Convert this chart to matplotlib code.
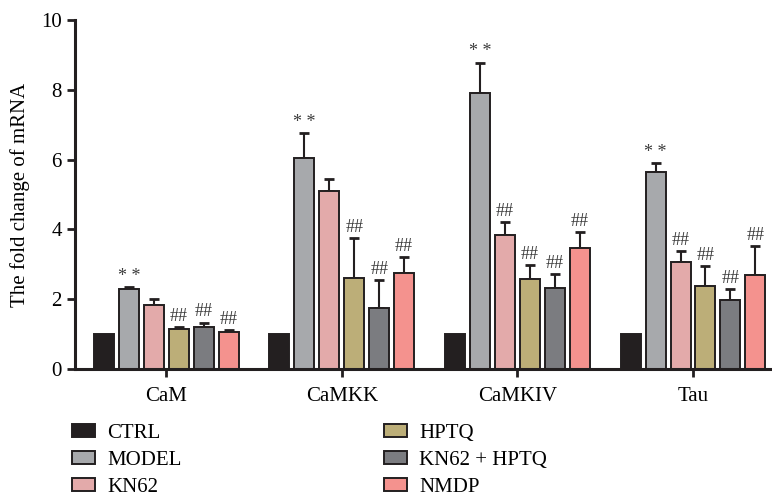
import numpy as np
import matplotlib
matplotlib.use("Agg")
import matplotlib.pyplot as plt

plt.rcParams['font.family'] = ['Liberation Serif', 'DejaVu Serif']

genes = ['CaM', 'CaMKK', 'CaMKIV', 'Tau']
groups = ['CTRL', 'MODEL', 'KN62', 'HPTQ', 'KN62 + HPTQ', 'NMDP']
colors = ['#231f20', '#a7a9ac', '#e3aaaa', '#bcae78', '#7b7c80', '#f4928e']

# mean fold change per group (rows) and gene (columns)
means = [
    [1.0, 1.0, 1.0, 1.0],
    [2.28, 6.05, 7.90, 5.65],
    [1.83, 5.10, 3.85, 3.08],
    [1.15, 2.62, 2.57, 2.38],
    [1.20, 1.75, 2.33, 1.97],
    [1.05, 2.75, 3.48, 2.68],
]
# upper error (SD)
errs = [
    [0.0, 0.0, 0.0, 0.0],
    [0.07, 0.70, 0.88, 0.25],
    [0.17, 0.35, 0.35, 0.29],
    [0.05, 1.13, 0.40, 0.58],
    [0.13, 0.80, 0.39, 0.32],
    [0.07, 0.45, 0.44, 0.85],
]
# significance marks above bars
marks = [
    ['', '', '', ''],
    ['* *', '* *', '* *', '* *'],
    ['', '', '##', '##'],
    ['##', '##', '##', '##'],
    ['##', '##', '##', '##'],
    ['##', '##', '##', '##'],
]

fig = plt.figure(figsize=(7.72, 5.0), dpi=100)
ax = fig.add_axes([0.097, 0.262, 0.903, 0.698])

x = np.arange(len(genes))
step = 0.142
width = 0.114
for i, g in enumerate(groups):
    pos = x + (i - 2.5) * step
    ax.bar(pos, means[i], width, color=colors[i], edgecolor='#231f20',
           linewidth=1.4, label=g, zorder=2)
    if i > 0:
        ax.errorbar(pos, means[i], yerr=[np.zeros(len(genes)), errs[i]],
                    fmt='none', ecolor='#231f20', elinewidth=1.5,
                    capsize=3.5, capthick=2, zorder=1)
    for j in range(len(genes)):
        if marks[i][j]:
            ax.text(pos[j], means[i][j] + errs[i][j] + 0.06, marks[i][j],
                    ha='center', va='bottom', fontsize=13, color='#3a3a3a')

ax.set_xlim(-0.52, 3.45)
ax.set_ylim(0, 10)
ax.set_yticks([0, 2, 4, 6, 8, 10])
ax.set_xticks(x)
ax.set_xticklabels(genes)
ax.tick_params(axis='both', labelsize=15, width=2, length=6, color='#231f20')
ax.tick_params(axis='x', pad=7)
ax.set_ylabel('The fold change of mRNA', fontsize=15, labelpad=8)
for s in ['top', 'right']:
    ax.spines[s].set_visible(False)
for s in ['left', 'bottom']:
    ax.spines[s].set_linewidth(2.2)
    ax.spines[s].set_color('#231f20')

handles, labels = ax.get_legend_handles_labels()
fig.legend(handles, labels,
           ncol=2, loc='upper left', bbox_to_anchor=(0.093, 0.152),
           frameon=False, fontsize=15, handlelength=1.1, handleheight=0.55,
           handletextpad=0.6, labelspacing=0.38, columnspacing=9.7,
           borderpad=0, borderaxespad=0)

fig.savefig('out.png', dpi=100)
